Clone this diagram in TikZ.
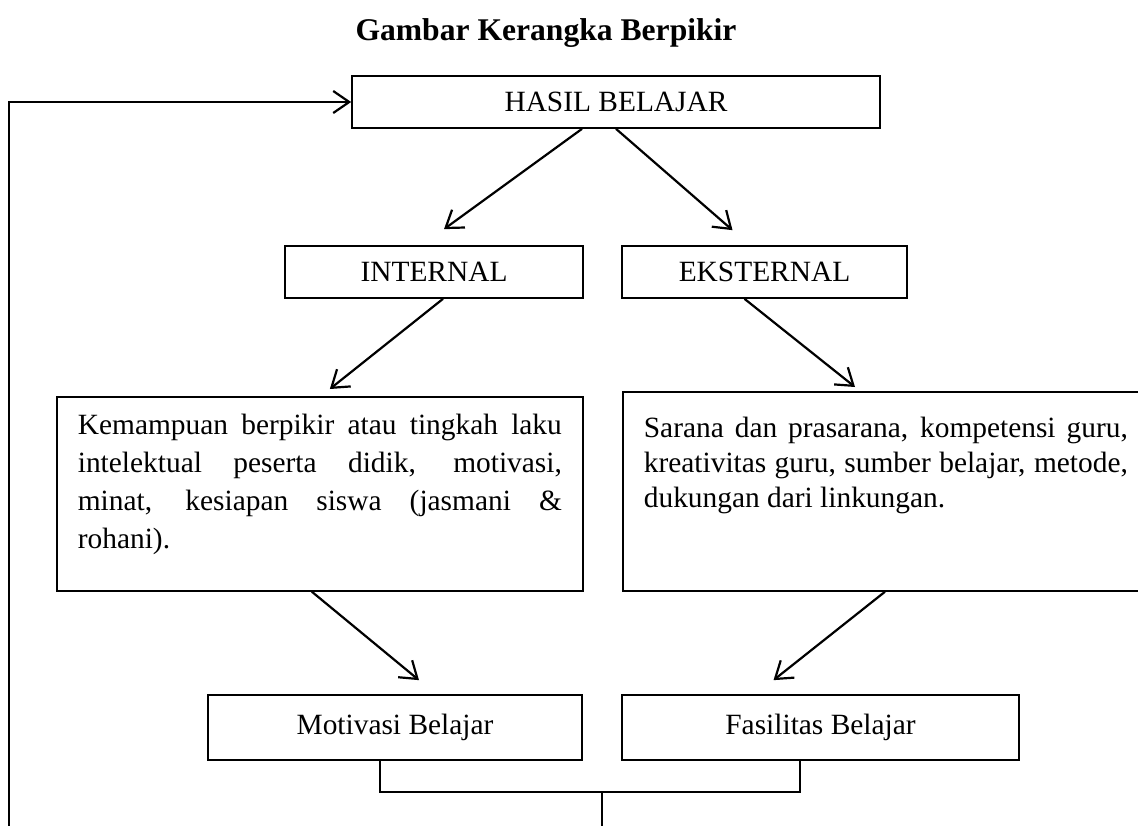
\documentclass[tikz,border=0pt]{standalone}
\usepackage{fontspec}
\setmainfont{Liberation Serif}
\usepackage{tikz}
\usetikzlibrary{arrows.meta, calc}
\newcommand{\isibox}[4]{\parbox[c][#1][t]{242pt}{\tolerance=10000\hyphenpenalty=10000
\setlength{\baselineskip}{#3}\rule{0pt}{#2}#4}}

\begin{document}
\begin{tikzpicture}[x=0.5pt, y=-0.5pt,
    every node/.style={font=\fontsize{14.7}{19}\selectfont},
    kotak/.style={draw, line width=0.85pt, inner sep=0pt},
    panah/.style={line width=1.1pt, -{Straight Barb[length=8pt,width=11pt]}},
    garis/.style={line width=0.85pt}]
    \useasboundingbox (0,0) rectangle (1138,825);
    \clip (0,0) rectangle (1138,825);

    \node[font=\fontsize{15.8}{19}\selectfont\bfseries, anchor=base] (judul) at (546,40) {Gambar Kerangka Berpikir};

    \node[kotak, minimum width=264pt, minimum height=26pt] (hasil) at (616,102) {HASIL BELAJAR};
    \node[kotak, minimum width=149pt, minimum height=26pt] (internal) at (434,272) {INTERNAL};
    \node[kotak, minimum width=142.5pt, minimum height=26pt] (eksternal) at (764.5,272) {EKSTERNAL};

    \node[kotak, anchor=north west, inner xsep=10.5pt] (faktorint) at (56,396)
        {\isibox{97pt}{19pt}{19pt}{Kemampuan berpikir atau tingkah laku\linebreak
        intelektual peserta didik, motivasi,\linebreak
        minat, kesiapan siswa (jasmani \&\linebreak rohani).}};
    \node[kotak, anchor=north west, inner xsep=10.5pt] (faktoreks) at (622,391)
        {\isibox{99.5pt}{23pt}{17.5pt}{Sarana dan prasarana, kompetensi guru,\linebreak
        kreativitas guru, sumber belajar, metode,\linebreak
        dukungan dari linkungan.}};

    \node[kotak, minimum width=187pt, minimum height=32.5pt] (motivasi) at (395,727.5) {Motivasi Belajar};
    \node[kotak, minimum width=198.5pt, minimum height=32.5pt] (fasilitas) at (820.5,727.5) {Fasilitas Belajar};

    \coordinate (kiri) at (380,792);
    \coordinate (kanan) at (800,792);
    \coordinate (tengah) at (602,792);
    \coordinate (bawah) at (602,830);
    \coordinate (balik) at (9,830);

    % panah
    \draw[panah] (balik) |- (hasil.west);
    \draw[panah] ($(hasil.south)+(-34,0)$) -- ($(internal.north)+(10,-16)$);
    \draw[panah] (hasil.south) -- ($(eksternal.north)+(-32,-15)$);
    \draw[panah] ($(internal.south)+(9,0)$) -- ($(faktorint.north)+(10,-7)$);
    \draw[panah] ($(eksternal.south)+(-20,0)$) -- ($(faktoreks.north west)+(233,-4)$);
    \draw[panah] ($(faktorint.south)+(-8,0)$) -- ($(motivasi.north)+(24,-14)$);
    \draw[panah] ($(faktoreks.south west)+(263,0)$) -- ($(fasilitas.north)+(-47,-14)$);

    % garis gabungan
    \draw[garis] (motivasi.south -| kiri) -- (kiri) -- (kanan) -- (fasilitas.south -| kanan);
    \draw[garis] (tengah) -- (bawah);
\end{tikzpicture}
\end{document}
